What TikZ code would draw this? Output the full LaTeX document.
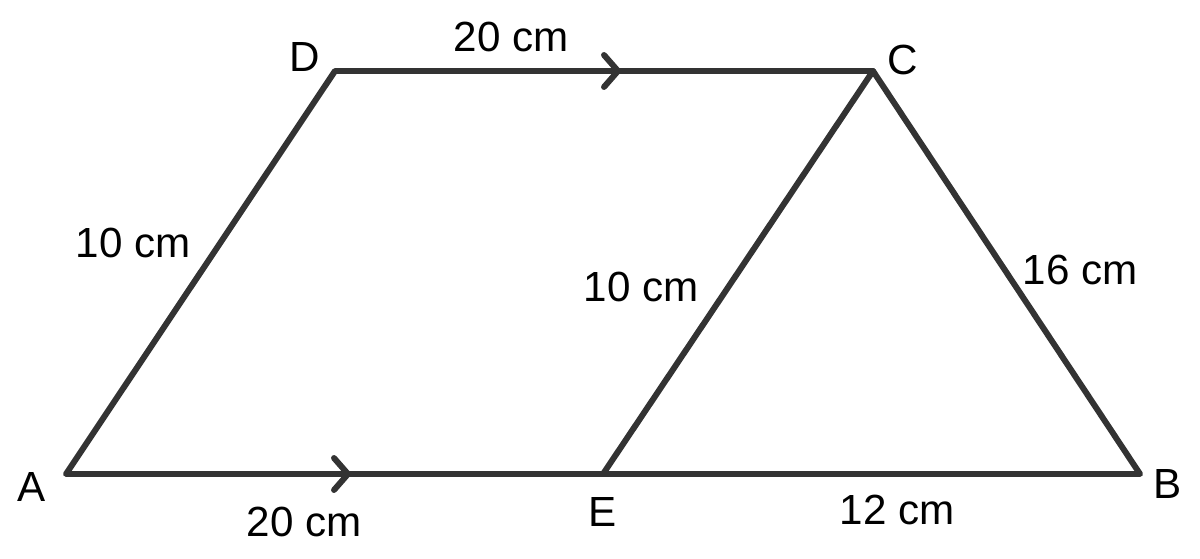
\documentclass[tikz,border=0pt]{standalone}
\usepackage{fontspec}
\setmainfont{Liberation Sans}
\begin{document}
\begin{tikzpicture}[x=0.02cm, y=-0.02cm, line join=round, line cap=round]

		\tikzset{edge/.style={line width=3.4pt, color=black!80},
			label style/.style={font=\fontsize{24}{28}\selectfont, inner sep=0pt}}

		\useasboundingbox (0,0) rectangle (1200,558);
		\coordinate (A) at (66,474);
		\coordinate (E) at (603,474);
		\coordinate (B) at (1140,474);
		\coordinate (D) at (335,71);
		\coordinate (C) at (873,71);
		\coordinate (tAE) at (348,474);
		\coordinate (tDC) at (618,71);
		\draw[edge] (A)--(B)--(C)--(D)--cycle;
		\draw[edge] (E)--(C);
		\foreach \t in {tAE,tDC}
		\draw[edge] (\t) ++(-14,-16) -- (\t) -- ++(-14,16);
		\node[label style] (lA) at (32,487) {A};
		\node[label style] (lB) at (1168,484) {B};
		\node[label style] (lC) at (903,60) {C};
		\node[label style] (lD) at (305,57) {D};
		\node[label style] (lE) at (603,512) {E};
		\node[label style] (lDC) at (511,37) {20 cm};
		\node[label style] (lAE) at (304,522) {20 cm};
		\node[label style] (lAD) at (133,243) {10 cm};
		\node[label style] (lEC) at (641,287) {10 cm};
		\node[label style] (lCB) at (1080,270) {16 cm};
		\node[label style] (lEB) at (897,510) {12 cm};
	\end{tikzpicture}
\end{document}
